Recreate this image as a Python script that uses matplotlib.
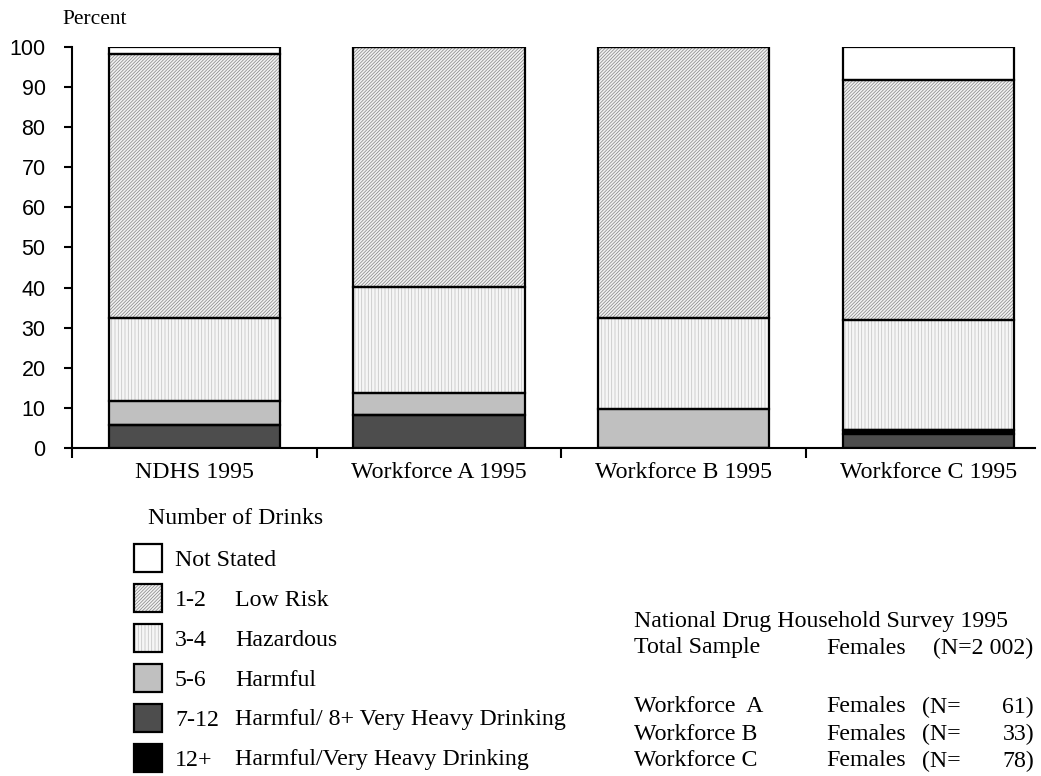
import matplotlib
matplotlib.use("Agg")
import matplotlib.pyplot as plt
from matplotlib.patches import Rectangle
import numpy as np

categories = ["NDHS 1995", "Workforce A 1995", "Workforce B 1995", "Workforce C 1995"]
# values per segment (bottom-up), per category
v_712 = [5.8, 8.2, 0.0, 3.5]
v_12p = [0.0, 0.0, 0.0, 1.0]
v_56 = [6.0, 5.5, 9.7, 0.0]
v_34 = [20.5, 26.5, 22.7, 27.4]
v_12 = [66.0, 59.8, 67.6, 59.9]
v_ns = [1.7, 0.0, 0.0, 8.2]
series = [v_712, v_12p, v_56, v_34, v_12, v_ns]

faces = ["#4d4d4d", "#000000", "#c0c0c0", "#f6f6f6", "#f2f2f2", "#ffffff"]
hatch_cols = ["#3a3a3a", "#000000", "#aaaaaa", "#c4c4c4", "#8a8a8a", "#ffffff"]
hatches = [None, None, None, "|||||", "//////////", None]

# legend order (top to bottom)
leg_idx = [5, 4, 3, 2, 0, 1]
leg_code = ["", "1-2", "3-4", "5-6", "7-12", "12+"]
leg_text = ["Not Stated", "Low Risk", "Hazardous", "Harmful",
            "Harmful/ 8+ Very Heavy Drinking", "Harmful/Very Heavy Drinking"]

yticks = list(range(0, 101, 10))

serif = "Liberation Serif"
sans = "Liberation Sans"
FS = 17.2
plt.rcParams["hatch.linewidth"] = 0.55

W, H = 1041, 776
fig = plt.figure(figsize=(W / 100, H / 100), dpi=100)
ax = fig.add_axes([72 / W, 1 - 448 / H, (1035 - 72) / W, (448 - 47) / H])

x = np.arange(len(categories))
bw = 0.70
bottom = np.zeros(len(categories))
for vals, fc, hc, h in zip(series, faces, hatch_cols, hatches):
    vals = np.array(vals)
    ax.bar(x, vals, bw, bottom=bottom, color=fc, edgecolor=hc, hatch=h, linewidth=0, zorder=2)
    ax.bar(x, vals, bw, bottom=bottom, facecolor="none", edgecolor="black", linewidth=1.6, zorder=3)
    bottom += vals

ax.set_xlim(-0.5, 3.435)
ax.set_ylim(0, 100)
ax.set_yticks(yticks)
ax.set_yticklabels([str(t) for t in yticks], fontfamily=sans, fontsize=15.5)
ax.set_xticks(x)
ax.set_xticklabels(categories, fontfamily=serif, fontsize=FS)
ax.set_xticks([-0.5, 0.5, 1.5, 2.5], minor=True)
ax.tick_params(axis="x", which="major", length=0, pad=10)
ax.tick_params(axis="x", which="minor", length=7, width=1.5, direction="out")
ax.tick_params(axis="y", length=6, width=1.5, direction="out", pad=13)
for s in ["top", "right"]:
    ax.spines[s].set_visible(False)
ax.spines["left"].set_linewidth(1.5)
ax.spines["bottom"].set_linewidth(1.5)

def ftext(px, py, s, **kw):
    kw.setdefault("fontfamily", serif)
    kw.setdefault("fontsize", FS)
    kw.setdefault("va", "center")
    fig.text(px / W, 1 - py / H, s, **kw)

ftext(62, 19, "Percent", fontsize=15.5)
ftext(148, 519, "Number of Drinks")

# legend
for k, (si, code, txt) in enumerate(zip(leg_idx, leg_code, leg_text)):
    cy = 558 + 40 * k
    x0, y0, bwid, bh = 134 / W, 1 - (cy + 14) / H, 28 / W, 28 / H
    fig.patches.append(Rectangle((x0, y0), bwid, bh, transform=fig.transFigure,
                                 facecolor=faces[si], edgecolor=hatch_cols[si],
                                 hatch=hatches[si], linewidth=0))
    fig.patches.append(Rectangle((x0, y0), bwid, bh, transform=fig.transFigure,
                                 facecolor="none", edgecolor="black", linewidth=1.6))
    if code:
        ftext(175, cy + 2, code)
        ftext(235, cy + 2, txt)
    else:
        ftext(175, cy + 2, txt)

# right text block
ftext(634, 621, "National Drug Household Survey 1995")
ftext(634, 648, "Total Sample")
ftext(826, 648, "Females")
ftext(1033, 648, "(N=2 002)", ha="right")
for row, (lab, n) in enumerate(zip(["Workforce  A", "Workforce B", "Workforce C"], ["61)", "33)", "78)"])):
    yy = 707 + 27 * row
    ftext(634, yy, lab)
    ftext(826, yy, "Females")
    ftext(922, yy, "(N=")
    ftext(1034, yy, n, ha="right")

fig.savefig("out.png", dpi=100)
